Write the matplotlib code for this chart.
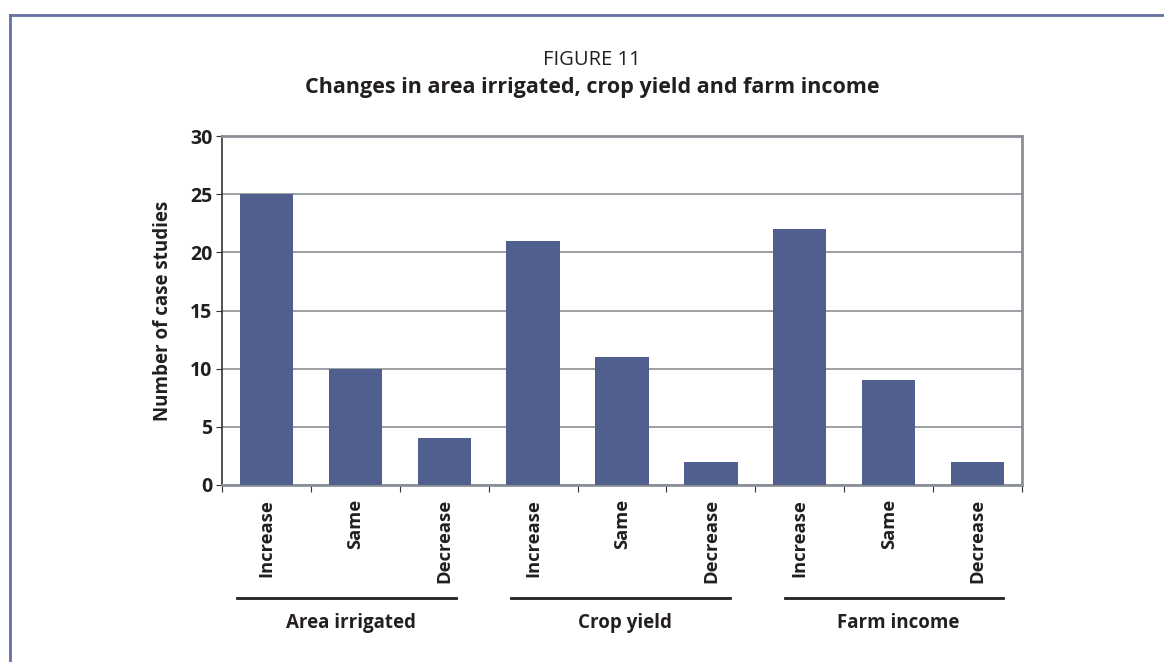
"""
Changes in area irrigated, crop yield and farm income
"""
import numpy as np
import matplotlib
matplotlib.use("Agg")
import matplotlib.pyplot as plt
from matplotlib.lines import Line2D
from matplotlib.transforms import blended_transform_factory

#Data
groups = ["Area irrigated", "Crop yield", "Farm income"]
changes = ["Increase", "Same", "Decrease"]
area_irrigated = [25, 10, 4]
crop_yield = [21, 11, 2]
farm_income = [22, 9, 2]

plt.rcParams['font.family'] = ['Open Sans', 'DejaVu Sans']

W, H = 1164, 662
fig = plt.figure(figsize=(W / 100, H / 100), dpi=100)
ax = fig.add_axes([222 / W, 1 - 485 / H, 800 / W, 349 / H])

values = area_irrigated + crop_yield + farm_income
labels = changes * len(groups)
x = np.arange(len(values))
bar_col = '#515f8f'
grid_col = '#8a9096'
txt_col = '#231f20'

ax.bar(x, values, width=0.6, color=bar_col, zorder=3)
ax.set_xlim(-0.5, len(values) - 0.5)
ax.set_ylim(0, 30)
ax.set_yticks(range(0, 31, 5))
ax.yaxis.grid(True, color=grid_col, linewidth=1.2, zorder=0)
ax.set_xticks(np.arange(-0.5, len(values), 1))
ax.set_xticklabels([])
ax.tick_params(axis='x', direction='out', length=5, color='#333333')
ax.tick_params(axis='y', direction='out', length=4, color='#333333',
               labelsize=14, pad=3)
for t in ax.get_yticklabels():
    t.set_fontweight('bold')
    t.set_color(txt_col)

for s in ['top', 'right', 'bottom']:
    ax.spines[s].set_color(grid_col)
    ax.spines[s].set_linewidth(2)
ax.spines['left'].set_color('#333333')
ax.spines['left'].set_linewidth(1.2)

ax.set_ylabel("Number of case studies", fontsize=13.5, fontweight='bold',
              color=txt_col, labelpad=12)

#Category labels below each bar
trans = blended_transform_factory(ax.transData, fig.transFigure)
for xi, lab in zip(x, labels):
    ax.text(xi, 1 - 499 / H, lab, transform=trans, rotation=90,
            ha='center', va='top', fontsize=13.2, fontweight='bold',
            color=txt_col)

#Group underline and names
for g, name in enumerate(groups):
    start = 3.08 * g - 0.33
    end = start + 2.46
    ax.add_line(Line2D([start, end], [1 - 598 / H] * 2,
                       transform=trans, color=txt_col, linewidth=2,
                       clip_on=False))
    ax.text((start + end) / 2 + 0.05, 1 - 623 / H, name, transform=trans,
            ha='center', va='center', fontsize=13.5, fontweight='bold',
            color=txt_col)

#Titles
fig.text(592 / W, 1 - 60 / H, "FIGURE 11", ha='center', va='center',
         fontsize=14.5, color=txt_col)
fig.text(592 / W, 1 - 88 / H,
         "Changes in area irrigated, crop yield and farm income",
         ha='center', va='center', fontsize=15.5, fontweight='bold',
         color=txt_col)

#Frame around the figure
border = '#6470a0'
fig.add_artist(Line2D([9.5 / W, 9.5 / W], [0, 1 - 15 / H],
                      transform=fig.transFigure, color=border, linewidth=2))
fig.add_artist(Line2D([9.5 / W, 1], [1 - 15 / H, 1 - 15 / H],
                      transform=fig.transFigure, color=border, linewidth=2))

plt.savefig('out.png', dpi=100)
